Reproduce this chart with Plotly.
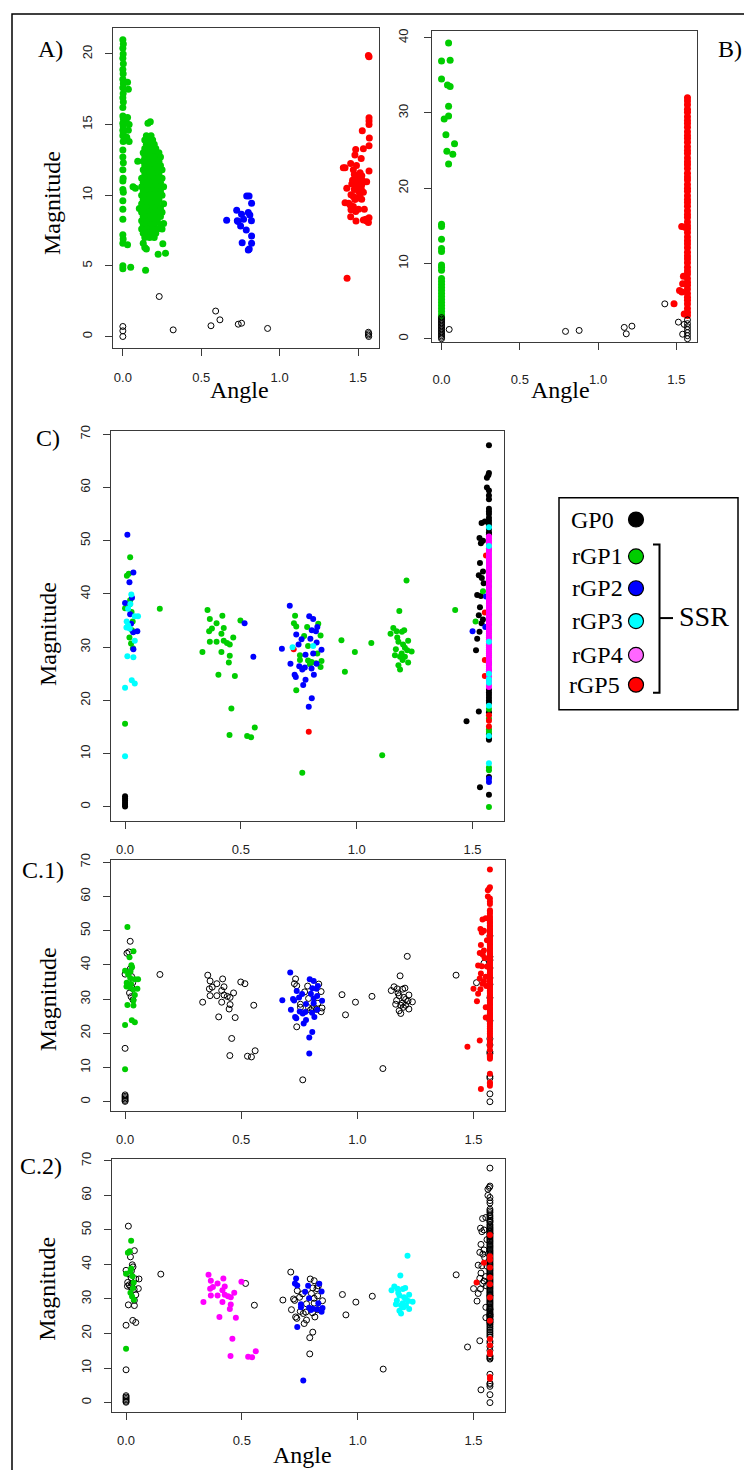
import plotly.graph_objects as go

W, H = 744, 1470

# ---------------- ticks ----------------
X_TICKS = [0.0, 0.5, 1.0, 1.5]
X_TICK_TEXT = ["0.0", "0.5", "1.0", "1.5"]
A_Y_TICKS = [0, 5, 10, 15, 20]
B_Y_TICKS = [0, 10, 20, 30, 40]
C_Y_TICKS = [0, 10, 20, 30, 40, 50, 60, 70]

# ---------------- Panel A data (angle, magnitude) ----------------
A_GREEN_COL = [(0.000, 21.0), (0.003, 20.7), (0.000, 20.4), (0.002, 20.0), (0.000, 19.7), (0.003, 19.3),
               (0.000, 18.9), (0.002, 18.6), (0.000, 18.2), (0.003, 17.9), (0.000, 17.6), (0.002, 17.2),
               (0.000, 16.9), (0.003, 16.6), (0.000, 16.2), (0.000, 15.6), (0.003, 15.4), (0.000, 15.1),
               (0.002, 14.9), (0.000, 14.6), (0.003, 14.4), (0.000, 14.2), (0.002, 13.8), (0.000, 13.2),
               (0.000, 12.7), (0.003, 12.3), (0.000, 11.8), (0.002, 11.2), (0.000, 11.0), (0.000, 10.4),
               (0.003, 10.2), (0.000, 9.6), (0.000, 9.0), (0.000, 8.3), (0.000, 7.2), (0.002, 6.9),
               (0.000, 6.6), (0.000, 5.0), (0.000, 4.8),
               (0.030, 18.0), (0.035, 17.5), (0.030, 15.5), (0.040, 15.0), (0.035, 14.6), (0.040, 13.8),
               (0.020, 15.2), (0.025, 14.1), (0.030, 6.5), (0.050, 4.9)]
A_GREEN_BLOB = [(0.160, 15.1), (0.175, 15.2),
                (0.150, 14.2), (0.180, 14.2),
                (0.140, 13.9), (0.170, 13.9), (0.190, 13.9),
                (0.150, 13.6), (0.180, 13.6), (0.200, 13.6),
                (0.140, 13.3), (0.160, 13.3), (0.190, 13.3), (0.210, 13.3),
                (0.130, 13.0), (0.160, 13.0), (0.180, 13.0), (0.210, 13.0), (0.230, 13.0),
                (0.140, 12.7), (0.170, 12.7), (0.200, 12.7), (0.220, 12.7), (0.240, 12.7),
                (0.095, 12.4), (0.130, 12.4), (0.150, 12.4), (0.180, 12.4), (0.200, 12.4), (0.230, 12.4),
                (0.140, 12.1), (0.160, 12.1), (0.190, 12.1), (0.210, 12.1), (0.240, 12.1),
                (0.130, 11.8), (0.150, 11.8), (0.180, 11.8), (0.200, 11.8), (0.220, 11.8), (0.250, 11.8),
                (0.140, 11.5), (0.170, 11.5), (0.190, 11.5), (0.210, 11.5), (0.230, 11.5),
                (0.120, 11.2), (0.150, 11.2), (0.180, 11.2), (0.200, 11.2), (0.220, 11.2), (0.250, 11.2),
                (0.130, 10.9), (0.160, 10.9), (0.190, 10.9), (0.210, 10.9), (0.240, 10.9),
                (0.065, 10.6), (0.080, 10.5), (0.120, 10.6), (0.150, 10.6), (0.170, 10.6), (0.200, 10.6),
                (0.230, 10.6), (0.260, 10.6),
                (0.130, 10.3), (0.160, 10.3), (0.180, 10.3), (0.210, 10.3), (0.240, 10.3),
                (0.120, 10.0), (0.140, 10.0), (0.170, 10.0), (0.190, 10.0), (0.220, 10.0), (0.250, 10.0),
                (0.130, 9.7), (0.160, 9.7), (0.180, 9.7), (0.210, 9.7), (0.230, 9.7),
                (0.120, 9.4), (0.150, 9.4), (0.170, 9.4), (0.200, 9.4), (0.220, 9.4), (0.260, 9.4),
                (0.105, 9.05), (0.130, 9.1), (0.160, 9.1), (0.190, 9.1), (0.210, 9.1), (0.240, 9.1),
                (0.120, 8.8), (0.140, 8.8), (0.170, 8.8), (0.200, 8.8), (0.230, 8.8), (0.250, 8.8),
                (0.130, 8.5), (0.150, 8.5), (0.180, 8.5), (0.210, 8.5), (0.240, 8.5),
                (0.120, 8.2), (0.160, 8.2), (0.190, 8.2), (0.220, 8.2), (0.260, 8.0),
                (0.130, 7.9), (0.150, 7.9), (0.180, 7.9), (0.200, 7.9), (0.240, 7.9),
                (0.120, 7.6), (0.160, 7.6), (0.190, 7.6), (0.220, 7.6), (0.250, 7.6),
                (0.130, 7.3), (0.150, 7.3), (0.180, 7.3), (0.210, 7.3),
                (0.140, 7.0), (0.170, 7.0), (0.200, 7.0),
                (0.130, 6.6), (0.255, 6.57),
                (0.140, 6.3), (0.150, 6.2),
                (0.225, 5.82), (0.272, 5.9),
                (0.145, 4.69)]
A_BLUE = [(0.662, 8.22), (0.726, 8.93), (0.730, 8.20), (0.790, 9.94), (0.805, 9.94), (0.821, 9.43),
          (0.800, 8.77), (0.810, 8.60), (0.757, 8.65), (0.770, 8.30), (0.735, 8.13), (0.751, 7.82),
          (0.820, 8.20), (0.787, 7.54), (0.821, 7.12), (0.761, 6.64), (0.821, 6.60), (0.800, 6.13),
          (0.806, 6.20)]
A_RED = [(1.566, 19.89), (1.570, 19.80), (1.570, 15.48), (1.570, 15.25), (1.570, 15.0), (1.527, 14.56),
         (1.572, 14.04), (1.485, 13.24), (1.534, 13.29), (1.570, 13.5), (1.480, 12.84), (1.453, 12.25),
         (1.406, 11.94), (1.417, 11.94), (1.470, 11.8), (1.570, 11.71), (1.476, 11.47), (1.513, 11.59),
         (1.524, 11.37), (1.503, 11.12), (1.555, 10.96), (1.465, 11.05), (1.487, 10.9), (1.524, 10.76),
         (1.428, 10.49), (1.476, 10.41), (1.503, 10.3), (1.534, 10.2), (1.455, 10.03), (1.523, 9.71),
         (1.480, 9.7), (1.417, 9.47), (1.440, 9.43), (1.470, 9.2), (1.503, 9.0), (1.455, 8.97),
         (1.485, 8.85), (1.453, 8.48), (1.487, 8.18), (1.534, 8.25), (1.555, 8.18), (1.570, 8.4),
         (1.566, 8.06), (1.430, 4.12),
         (1.490, 10.6), (1.500, 11.0), (1.460, 10.8), (1.520, 10.5), (1.500, 9.8), (1.470, 9.9),
         (1.510, 10.0), (1.490, 11.3), (1.530, 11.0), (1.450, 9.3), (1.540, 9.0), (1.490, 12.1),
         (1.520, 12.6), (1.550, 8.3)]
A_OPEN = [(0.0, 0.71), (0.0, 0.4), (0.0, 0.0), (0.232, 2.83), (0.321, 0.47), (0.562, 0.76), (0.592, 1.8),
          (0.619, 1.18), (0.736, 0.87), (0.757, 0.94), (0.923, 0.57), (1.566, 0.3), (1.568, 0.2),
          (1.566, 0.1), (1.568, 0.0)]

# ---------------- Panel B data ----------------
B_GREEN_TOP = [(0.045, 39.3), (0.000, 36.9), (0.055, 37.0), (0.000, 34.5), (0.038, 33.7), (0.055, 33.5),
               (0.045, 30.9), (0.045, 29.6), (0.017, 29.2), (0.028, 27.1), (0.083, 25.9), (0.034, 24.9),
               (0.072, 24.5), (0.045, 23.2)]
B_GREEN_COL = [15.2, 14.9, 13.2, 12.0, 11.6, 9.8, 9.5, 9.1, 8.0, 7.6, 7.2, 6.8, 6.4, 6.0, 5.6, 5.2, 4.8,
               4.4, 4.0, 3.6, 3.2, 2.9]
B_OPEN_COL0 = [2.8, 2.6, 2.4, 2.2, 2.0, 1.8, 1.6, 1.4, 1.2, 1.0, 0.8, 0.6, 0.4, 0.2, 0.0]
B_OPEN_OTHER = [(0.049, 1.23), (0.792, 0.97), (0.879, 1.1), (1.167, 1.5), (1.180, 0.65), (1.216, 1.67),
                (1.426, 4.63), (1.513, 2.2), (1.550, 1.9), (1.540, 0.6), (1.5708, 2.5), (1.5708, 2.0),
                (1.5708, 1.6), (1.5708, 1.2), (1.5708, 0.8), (1.5708, 0.4), (1.5708, 0.0)]
B_RED_COL = [32.0, 31.6, 31.1, 30.5, 30.1, 29.5, 29.0, 28.6, 28.1, 27.5, 27.0, 26.6, 26.1, 25.5, 25.0,
             24.6, 24.0, 23.5, 23.1, 22.6, 22.0, 21.5, 21.1, 20.5, 20.0, 19.6, 19.0, 18.5, 18.1, 17.6,
             17.0, 16.5, 16.1, 15.5, 15.0, 14.6, 14.1, 13.5, 13.0, 12.6, 12.1, 11.5, 11.0, 10.6, 10.1,
             9.5, 9.0, 8.6, 8.0, 7.5, 7.1, 6.6, 6.0, 5.5, 5.1, 4.6, 4.0, 3.5, 3.1]
B_RED_OFF = [(1.534, 14.9), (1.555, 14.8), (1.520, 6.4), (1.535, 6.2), (1.540, 7.3), (1.545, 8.3),
             (1.485, 4.63), (1.550, 3.3)]

# ---------------- Panels C, C.1, C.2 data (same points, three colourings) ----------------
Z_BLUE = [(0.010, 51.1), (0.036, 44.0), (0.019, 42.2), (0.030, 39.3), (0.000, 38.3), (0.022, 36.2),
          (0.026, 34.4), (0.053, 33.0), (0.035, 32.8), (0.036, 29.6)]
Z_GREEN = [(0.022, 46.9), (0.016, 43.8), (0.008, 43.4), (0.022, 38.8), (0.019, 38.0), (0.000, 37.3),
           (0.028, 36.6), (0.033, 34.8), (0.030, 33.2), (0.019, 31.8), (0.026, 30.7), (0.034, 29.8),
           (0.000, 15.6)]
Z_CYAN = [(0.027, 39.9), (0.023, 38.1), (0.013, 37.2), (0.042, 35.8), (0.056, 35.8), (0.007, 34.8),
          (0.013, 34.1), (0.006, 33.7), (0.020, 33.5), (0.042, 31.2), (0.010, 28.3), (0.036, 28.1),
          (0.029, 23.8), (0.042, 23.2), (0.000, 22.4), (0.000, 9.5)]
Z_BLACK = [(0.0, 2.0), (0.0, 1.6), (0.0, 1.2), (0.0, 0.8), (0.0, 0.4), (0.0, 0.1)]
ISO_GREEN = [(0.150, 37.2), (0.934, 31.3), (0.949, 25.4), (0.992, 29.1), (1.063, 30.8), (1.110, 9.7),
             (1.425, 37.0)]
M1_GREEN = [(0.356, 37.0), (0.366, 35.3), (0.420, 35.9), (0.395, 34.5), (0.375, 33.5), (0.363, 33.0),
            (0.426, 33.6), (0.416, 32.5), (0.498, 35.0), (0.467, 31.8), (0.426, 31.2), (0.440, 30.8),
            (0.452, 30.5), (0.366, 31.0), (0.395, 31.0), (0.334, 29.1), (0.416, 29.1), (0.452, 28.4),
            (0.448, 27.1), (0.403, 24.8), (0.474, 24.6), (0.459, 18.5), (0.451, 13.5), (0.527, 13.3),
            (0.544, 13.1), (0.560, 14.9)]
M1_BLUE = [(0.516, 34.5), (0.554, 28.2)]
M2_BLUE = [(0.711, 37.8), (0.795, 35.8), (0.812, 35.3), (0.806, 33.2), (0.824, 33.0), (0.830, 33.8),
           (0.739, 32.4), (0.762, 31.5), (0.800, 31.6), (0.749, 30.5), (0.827, 30.9), (0.677, 29.7),
           (0.848, 29.5), (0.779, 28.6), (0.812, 28.8), (0.714, 26.9), (0.752, 26.4), (0.776, 26.2),
           (0.765, 25.8), (0.805, 26.0), (0.815, 24.8), (0.732, 24.8), (0.737, 24.4), (0.827, 26.9),
           (0.779, 23.9), (0.769, 22.9), (0.806, 20.4), (0.793, 18.8)]
M2_GREEN = [(0.734, 35.9), (0.729, 34.5), (0.739, 33.9), (0.786, 33.8), (0.834, 34.4), (0.773, 32.1),
            (0.844, 32.2), (0.790, 30.2), (0.755, 28.5), (0.755, 27.6), (0.830, 28.8), (0.790, 27.5),
            (0.805, 27.2), (0.824, 27.0), (0.798, 26.8), (0.848, 27.4), (0.844, 26.3), (0.739, 21.9),
            (0.765, 6.4)]
M2_RED = [(0.728, 29.6), (0.793, 14.1)]
M2_CYAN = [(0.723, 30.0), (0.812, 30.2)]
M3_GREEN = [(1.215, 42.5), (1.184, 36.8), (1.158, 33.6), (1.172, 33.0), (1.146, 32.5), (1.195, 32.9),
            (1.205, 33.2), (1.180, 31.0), (1.222, 31.2), (1.169, 29.6), (1.208, 29.9), (1.218, 29.4),
            (1.237, 29.2), (1.165, 28.5), (1.187, 28.2), (1.208, 28.2), (1.194, 28.8), (1.180, 26.6),
            (1.187, 25.8), (1.222, 27.1), (1.198, 27.6), (1.200, 30.5), (1.175, 31.8)]
COL_BLACK = [(1.5708, 67.9), (1.5708, 62.7), (1.5680, 62.3), (1.562, 61.8), (1.562, 60.0), (1.5708, 59.4),
             (1.5708, 58.5), (1.5708, 57.8), (1.5708, 56.0), (1.5708, 55.5), (1.5708, 55.0), (1.5708, 54.3),
             (1.5708, 53.8), (1.5708, 53.3), (1.5708, 52.8), (1.5708, 52.2), (1.5708, 51.6), (1.5708, 51.2),
             (1.539, 53.3), (1.553, 53.6), (1.530, 50.5), (1.545, 50.0), (1.536, 49.5), (1.532, 45.8),
             (1.545, 44.2), (1.527, 43.5), (1.540, 43.0), (1.548, 42.0), (1.520, 39.8), (1.536, 39.6),
             (1.532, 37.5), (1.527, 36.0), (1.545, 35.2), (1.539, 34.5), (1.530, 32.9), (1.520, 31.6),
             (1.515, 29.4), (1.474, 16.1), (1.527, 17.9), (1.532, 3.7),
             (1.5708, 22.0), (1.5708, 21.5), (1.5708, 21.0), (1.5708, 20.5), (1.5708, 20.0), (1.5708, 19.5),
             (1.5708, 17.8), (1.5708, 13.6), (1.5708, 12.9), (1.5708, 12.6), (1.5708, 5.6)]
COL_MAGENTA = [(1.5708, v) for v in [50.8, 50.45, 50.1, 49.75, 49.4, 49.0, 48.6, 48.25, 47.9, 47.5, 47.1,
                                     46.75, 46.4, 46.0, 45.6, 45.25, 44.9, 44.5, 44.1, 43.75, 43.4, 43.05,
                                     42.7, 42.3, 41.9, 41.55, 41.2, 40.8, 40.4, 40.05, 39.7, 39.3, 38.9,
                                     38.55, 38.2, 37.8, 37.4, 37.05, 36.7, 36.3, 35.9, 35.55, 35.2, 34.85,
                                     34.5, 34.1, 33.7, 33.35, 33.0, 32.6, 32.2, 31.85, 31.5, 31.1, 30.7,
                                     30.35, 30.0, 29.6, 29.2, 28.85, 28.5, 28.1, 27.7, 27.35, 27.0, 26.6,
                                     26.2, 25.85, 25.5, 25.15, 24.8, 24.4, 24.0, 23.65, 23.3, 22.9, 22.5]]
COL_CYAN = [(1.5708, 52.5), (1.5708, 49.0), (1.5708, 31.0), (1.5708, 25.0), (1.5708, 24.0), (1.5708, 23.3),
            (1.5708, 19.0), (1.5708, 13.3), (1.5708, 8.2)]
COL_RED = [(1.558, 47.2), (1.553, 36.5), (1.553, 27.6), (1.553, 24.6), (1.5708, 17.2), (1.5708, 16.2),
           (1.5708, 15.1)]
COL_BLUE = [(1.558, 39.5), (1.555, 33.8), (1.5708, 27.0), (1.5708, 25.5), (1.5708, 5.3), (1.5708, 4.7),
            (1.500, 33.0)]
COL_GREEN = [(1.513, 34.8), (1.545, 40.5), (1.5708, 48.5), (1.5708, 42.4), (1.5708, 41.4), (1.5708, 39.1),
             (1.5708, 36.2), (1.5708, 34.3), (1.5708, 30.4), (1.5708, 23.7), (1.5708, 18.4), (1.5708, 16.6),
             (1.5708, 14.6), (1.5708, 14.1), (1.5708, 7.4), (1.5708, 6.9)]
COLB_BLACK = [(1.5708, 2.3)]
COLB_GREEN = [(1.5708, 0.0)]

# (points, colour in C, colour in C.1, colour in C.2) ; o = open circle
C_SERIES = [
    (Z_BLUE, "b", "g", "o"), (Z_GREEN, "g", "o", "g"), (Z_CYAN, "c", "g", "o"), (Z_BLACK, "k", "o", "o"),
    (ISO_GREEN, "g", "o", "o"),
    (M1_GREEN, "g", "o", "m"), (M1_BLUE, "b", "o", "o"),
    (M2_BLUE, "b", "b", "o"), (M2_GREEN, "g", "o", "b"), (M2_RED, "r", "b", "o"), (M2_CYAN, "c", "b", "o"),
    (M3_GREEN, "g", "o", "c"),
    (COL_BLACK, "k", "r", "o"), (COL_MAGENTA, "m", "r", "o"), (COL_CYAN, "c", "r", "o"),
    (COL_RED, "r", "r", "o"), (COL_BLUE, "b", "r", "o"), (COL_GREEN, "g", "o", "r"),
    (COLB_BLACK, "k", "o", "o"), (COLB_GREEN, "g", "o", "o"),
]

LEGEND_LABELS = ["GP0", "rGP1", "rGP2", "rGP3", "rGP4", "rGP5"]
LEGEND_FILLS = ["#000000", "#00CD00", "#0000FF", "#00FFFF", "#FF66FF", "#FF0000"]

COLORS = {"k": "#000000", "g": "#00CD00", "b": "#0000FF", "c": "#00FFFF", "m": "#FF00FF", "r": "#FF0000"}

fig = go.Figure()


def add_pts(pts, code, ax, size):
    if not pts:
        return
    xs = [p[0] for p in pts]
    ys = [p[1] for p in pts]
    if code == "o":
        marker = dict(symbol="circle-open", size=size, color="#000000", line=dict(width=1, color="#000000"))
    else:
        marker = dict(symbol="circle", size=size, color=COLORS[code], line=dict(width=0))
    fig.add_trace(go.Scatter(x=xs, y=ys, mode="markers", marker=marker, xaxis="x" + ax, yaxis="y" + ax,
                             showlegend=False, hoverinfo="skip"))


# Panel A
add_pts(A_GREEN_COL + A_GREEN_BLOB, "g", "", 7)
add_pts(A_BLUE, "b", "", 7)
add_pts(A_RED, "r", "", 7)
add_pts(A_OPEN, "o", "", 6)

# Panel B
add_pts(B_GREEN_TOP + [(0.0, v) for v in B_GREEN_COL], "g", "2", 7)
add_pts([(1.5708, v) for v in B_RED_COL] + B_RED_OFF, "r", "2", 7)
add_pts([(0.0, v) for v in B_OPEN_COL0] + B_OPEN_OTHER, "o", "2", 6)


def panel_points(idx, code):
    out = []
    for s in C_SERIES:
        if s[idx] == code:
            out += s[0]
    return out


for code in ["k", "g", "b", "r", "m", "c"]:
    add_pts(panel_points(1, code), code, "3", 6)
for code in ["o", "g", "m", "b", "c", "r"]:
    add_pts(panel_points(2, code), code, "4", 6)
for code in ["o", "g", "m", "b", "c", "r"]:
    add_pts(panel_points(3, code), code, "5", 6)

# ---------------- axes ----------------
COMMON = dict(showline=True, mirror=True, linecolor="#3a3a3a", linewidth=1, ticks="outside", ticklen=7,
              tickwidth=1, tickcolor="#3a3a3a", showgrid=False, zeroline=False, fixedrange=True,
              tickfont=dict(family="Liberation Sans, Arial, sans-serif", size=13, color="#222222"))


def dx(l, r):
    return [l / W, r / W]


def dy(t, b):
    return [1 - b / H, 1 - t / H]


def xaxis(dom, anchor, standoff):
    return dict(domain=dom, range=[-0.0628, 1.6336], anchor=anchor, tickvals=X_TICKS, ticktext=X_TICK_TEXT,
                ticklabelstandoff=standoff, **COMMON)


def yaxis(dom, anchor, rng, ticks, standoff):
    return dict(domain=dom, range=rng, anchor=anchor, tickvals=ticks, ticktext=[str(t) for t in ticks],
                tickangle=-90, ticklabelstandoff=standoff, **COMMON)


C_RANGE = [-2.716, 70.6]
fig.update_layout(
    width=W, height=H, margin=dict(l=0, r=0, t=0, b=0),
    paper_bgcolor="white", plot_bgcolor="white", showlegend=False,
    xaxis=xaxis(dx(113, 379), "y", 10),
    yaxis=yaxis(dy(21, 343), "x", [-0.84, 21.84], A_Y_TICKS, 8),
    xaxis2=xaxis(dx(431.7, 697.3), "y2", 18),
    yaxis2=yaxis(dy(24, 336.7), "x2", [-0.45, 40.9], B_Y_TICKS, 11),
    xaxis3=xaxis(dx(110.5, 503.5), "y3", 9),
    yaxis3=yaxis(dy(426, 818.3), "x3", C_RANGE, C_Y_TICKS, 7),
    xaxis4=xaxis(dx(110.5, 504.5), "y4", 9),
    yaxis4=yaxis(dy(857.3, 1109.3), "x4", C_RANGE, C_Y_TICKS, 7),
    xaxis5=xaxis(dx(111.5, 504.5), "y5", 9),
    yaxis5=yaxis(dy(1157.3, 1411.7), "x5", C_RANGE, C_Y_TICKS, 7),
)

SERIF = "Liberation Serif, Times New Roman, serif"


def px(x):
    return x / W


def py(y):
    return 1 - y / H


def text(s, x, y, size=24, angle=0, xanchor="center", yanchor="middle"):
    fig.add_annotation(text=s, x=px(x), y=py(y), xref="paper", yref="paper", showarrow=False,
                       textangle=angle, xanchor=xanchor, yanchor=yanchor, borderpad=0,
                       font=dict(family=SERIF, size=size, color="#000000"))


# panel labels
text("A)", 51, 42)
text("B)", 730, 42)
text("C)", 48, 433)
text("C.1)", 43, 867)
text("C.2)", 41, 1165)
# axis titles
text("Magnitude", 52, 197, angle=-90)
text("Magnitude", 48, 630, angle=-90)
text("Magnitude", 48, 997, angle=-90)
text("Magnitude", 47, 1288, angle=-90)
text("Angle", 239, 385)
text("Angle", 560, 385)
text("Angle", 302, 1469, size=24, yanchor="bottom")

# outer frame
fig.add_shape(type="rect", xref="paper", yref="paper", x0=px(12), x1=px(770), y0=py(1500), y1=py(7),
              line=dict(color="#000000", width=1.5), fillcolor="rgba(0,0,0,0)")

# legend box
fig.add_shape(type="rect", xref="paper", yref="paper", x0=px(559), x1=px(738), y0=py(706), y1=py(493),
              line=dict(color="#000000", width=1.5), fillcolor="white")
LEG_Y = [515, 552, 584, 617, 651, 681]
LEG_TX = [570, 571, 571, 571, 571, 568]
for lab, col, yy, tx in zip(LEGEND_LABELS, LEGEND_FILLS, LEG_Y, LEG_TX):
    text(lab, tx, yy, size=24, xanchor="left")
    r = 7.5
    fig.add_shape(type="circle", xref="paper", yref="paper", x0=px(636 - r), x1=px(636 + r),
                  y0=py(yy + r), y1=py(yy - r), fillcolor=col, line=dict(color="#000000", width=1.2))
# bracket
fig.add_shape(type="path", xref="paper", yref="paper",
              path=f"M {px(653)} {py(540)} L {px(659.5)} {py(540)} L {px(659.5)} {py(689)} L {px(653)} {py(689)}",
              line=dict(color="#000000", width=2))
fig.add_shape(type="line", xref="paper", yref="paper", x0=px(659.5), x1=px(673), y0=py(614), y1=py(614),
              line=dict(color="#000000", width=2))
text("SSR", 704, 612, size=28)

# the page's default body margin would shift the figure; remove it
fig.write_html("out.html", config={"displayModeBar": False},
               post_script="document.body.style.margin='0px';"
                           "document.documentElement.style.overflow='hidden';")
